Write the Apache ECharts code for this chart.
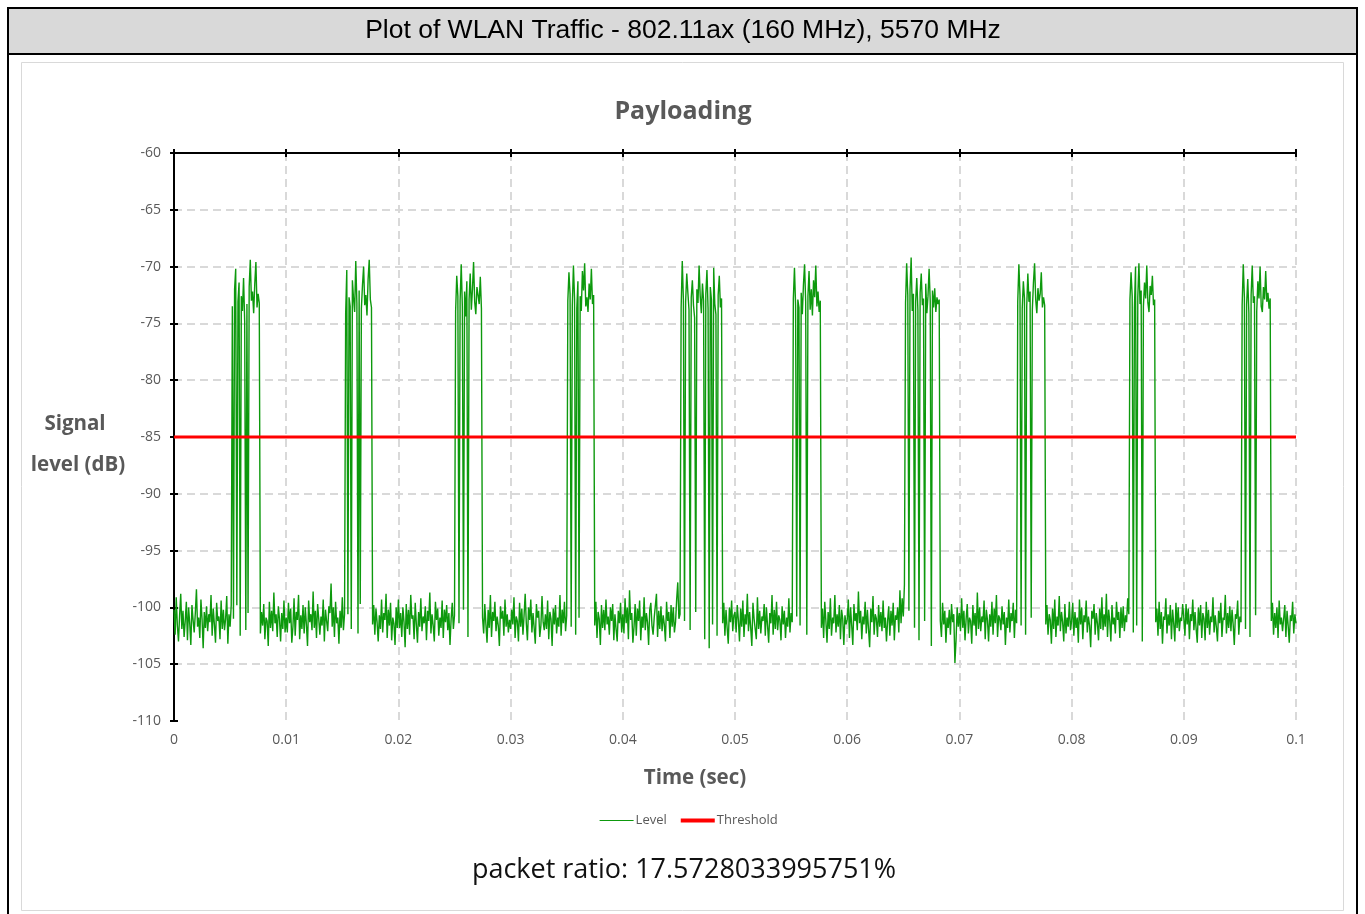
<!DOCTYPE html>
<html><head><meta charset="utf-8">
<script src="https://cdn.jsdelivr.net/npm/echarts@6/dist/echarts.min.js"></script>
<style>html,body{margin:0;padding:0;background:#fff}#c{width:1365px;height:914px}</style>
</head><body><div id="c"></div>
<script>
// ---- data ----
const sampleStep = 0.0001;     // seconds between samples
const periodLength = 0.01;     // level0k starts at k * 0.01 s

const level00 = [
  -100.2,-102.4,-99.1,-101.6,-103.0,-100.7,-98.8,-101.9,-100.3,-102.6,-101.2,-99.5,-102.9,-100.0,-101.4,-103.3,-99.8,-101.1,-102.2,-100.5,
  -98.4,-101.7,-100.9,-102.7,-99.3,-101.0,-103.6,-100.4,-101.8,-99.9,-102.1,-100.6,-101.3,-98.9,-102.5,-100.1,-101.5,-103.1,-99.6,-101.2,
  -100.8,-102.8,-99.4,-101.9,-100.2,-102.0,-101.0,-99.0,-103.2,-100.6,-101.7,-99.8,
  -73.5,-101.0,-72.0,-70.2,-99.8,-73.1,-71.4,-102.5,-72.6,-73.9,-71.0,-74.8,-102.0,-73.3,-100.5,-71.8,-69.4,-73.0,-72.2,-74.1,-71.5,-69.6,-73.6,-72.4,-73.2,
  -102.3,-100.4,-101.6,-99.7,-102.8,-100.9,-101.2,-103.4,-99.5,-101.8,-100.3,-102.1,-98.7,-101.4,-100.6,-102.6,-99.9,-101.0,-103.0,-100.5,-101.9,-99.4,-102.2];
const level01 = [
  -100.9,-102.2,-99.6,-101.4,-100.1,-103.1,-101.7,-99.2,-102.5,-100.4,-101.1,-98.9,-102.8,-100.7,-101.9,-99.8,-102.3,-100.0,-101.5,-103.4,
  -99.4,-101.3,-100.6,-102.0,-98.6,-101.8,-100.3,-102.7,-99.7,-101.0,-102.4,-100.8,-101.6,-99.3,-103.0,-100.2,-101.2,-102.1,-99.9,-100.5,
  -97.9,-101.7,-100.0,-102.6,-99.5,-101.4,-100.9,-103.2,-100.3,-101.8,-99.1,-102.0,-100.6,
  -74.1,-70.3,-100.6,-72.7,-73.5,-101.9,-71.2,-72.8,-74.0,-69.5,-73.2,-102.3,-72.1,-99.7,-73.7,-71.6,-70.0,-73.4,-72.5,-74.3,-71.1,-69.4,-72.9,-73.6,
  -101.5,-99.8,-102.4,-100.1,-101.3,-103.0,-100.7,-101.9,-99.3,-102.2,-100.5,-101.1,-98.8,-102.7,-100.2,-101.6,-99.6,-102.9,-100.9,-101.4,-103.3,-100.0,-101.8];
const level02 = [
  -99.3,-101.8,-100.5,-102.6,-100.0,-101.3,-103.5,-99.7,-101.9,-100.2,-102.4,-98.9,-101.0,-100.7,-102.8,-99.6,-101.5,-103.1,-100.4,-101.7,
  -99.2,-102.1,-100.8,-101.4,-99.9,-102.9,-100.3,-101.2,-98.7,-102.3,-100.6,-101.6,-103.0,-99.5,-101.1,-100.1,-102.5,-100.9,-101.8,-99.4,
  -102.7,-100.2,-101.3,-99.8,-102.0,-100.5,-103.3,-101.0,-99.6,-101.9,-100.7,
  -73.9,-70.8,-72.6,-101.4,-73.0,-69.8,-73.5,-100.2,-72.2,-74.4,-71.3,-102.6,-72.9,-70.6,-73.8,-72.0,-69.6,-73.1,-74.2,-71.8,-72.5,-73.3,-70.9,-73.7,
  -100.9,-102.3,-99.7,-101.5,-103.1,-100.2,-101.8,-98.9,-102.6,-100.4,-101.2,-99.5,-102.1,-100.8,-101.6,-103.4,-99.9,-101.0,-100.3,-102.5,-99.3,-101.7,-100.6,-102.2,-101.1];
const level03 = [
  -101.9,-100.2,-101.5,-99.1,-102.7,-100.8,-101.2,-103.0,-99.6,-101.7,-100.1,-102.4,-100.7,-98.8,-101.4,-102.9,-100.0,-101.1,-99.3,-102.2,
  -100.5,-101.8,-103.2,-99.7,-100.9,-100.3,-102.6,-101.6,-99.0,-101.3,-102.0,-100.6,-101.9,-99.4,-102.8,-100.4,-101.0,-103.4,-100.1,-101.5,
  -99.8,-102.3,-100.9,-101.7,-98.9,-102.5,-100.2,-101.4,-99.5,-102.1,-100.7,
  -73.0,-70.5,-72.4,-101.7,-73.4,-69.9,-72.8,-102.4,-73.7,-71.3,-100.9,-72.6,-73.9,-70.4,-72.1,-69.7,-73.5,-72.7,-74.0,-71.5,-72.9,-70.2,-73.3,-72.5,
  -101.6,-99.5,-102.7,-100.4,-101.0,-103.3,-99.8,-101.8,-100.2,-102.0,-99.3,-101.5,-100.8,-102.4,-100.0,-101.2,-99.7,-102.9,-100.6,-101.9,-103.0,-100.3,-101.4,-99.6,-102.2];
const level04 = [
  -100.6,-102.3,-99.2,-101.4,-100.0,-102.8,-98.5,-101.1,-100.5,-103.1,-101.7,-99.7,-102.5,-100.1,-101.2,-99.4,-102.9,-100.8,-101.8,-99.1,
  -102.0,-100.5,-101.3,-103.3,-100.2,-99.6,-101.6,-102.4,-100.9,-101.0,-98.8,-102.6,-100.3,-101.9,-99.9,-102.1,-100.7,-101.5,-103.0,-99.5,
  -101.2,-100.4,-102.7,-99.8,-101.7,-100.0,-102.2,-101.3,-99.3,-97.8,-101.0,-100.6,
  -73.6,-69.5,-72.9,-101.2,-73.1,-70.6,-72.3,-73.8,-102.0,-72.7,-71.2,-73.4,-74.5,-100.4,-72.0,-73.2,-69.9,-72.6,-74.1,-71.5,
  -73.0,-102.8,-72.4,-70.3,-73.7,-103.6,-71.8,-72.9,-101.5,-70.1,-73.3,-74.2,-102.5,-72.5,-70.8,-73.6,-72.8,
  -101.4,-99.6,-102.5,-100.2,-101.8,-103.2,-100.0,-101.3,-99.4,-102.1,-100.7];
const level05 = [
  -100.4,-102.2,-99.8,-101.1,-103.0,-100.1,-101.7,-99.4,-102.6,-100.6,-101.5,-98.8,-102.1,-100.4,-101.8,-103.4,-99.6,-101.0,-100.9,-102.8,
  -99.1,-101.9,-100.3,-102.3,-100.8,-101.2,-99.7,-102.5,-100.0,-101.6,-103.1,-100.5,-101.4,-98.9,-102.4,-100.2,-101.9,-99.5,-102.0,-100.7,
  -101.1,-102.9,-99.9,-101.5,-100.3,-102.7,-100.9,-101.7,-99.2,-102.2,-100.5,-101.3,
  -72.8,-70.1,-73.4,-100.8,-72.9,-73.6,-101.6,-72.3,-74.2,-71.6,-69.8,-73.1,-102.4,-72.6,-70.4,-73.8,-72.0,-74.3,-71.2,-72.7,-69.9,-73.5,-72.2,-74.0,-73.0,
  -101.8,-100.1,-102.7,-99.5,-101.2,-103.1,-100.4,-101.9,-99.2,-102.5,-100.9,-101.4,-98.9,-102.2,-100.6,-101.7,-99.8,-102.8,-100.2,-101.0,-103.3,-100.7,-101.5];
const level06 = [
  -101.1,-99.3,-102.7,-100.0,-101.6,-103.3,-99.7,-101.2,-100.5,-102.0,-98.6,-101.4,-100.3,-102.8,-100.8,-101.5,-99.5,-102.3,-100.2,-101.9,
  -103.5,-100.1,-101.3,-99.0,-102.4,-100.6,-101.0,-102.6,-99.8,-101.7,-100.4,-102.1,-99.4,-101.8,-100.9,-103.0,-101.2,-99.9,-102.5,-100.3,
  -101.6,-99.6,-102.9,-100.7,-101.1,-100.0,-102.2,-98.5,-101.4,-99.2,-100.8,-98.0,
  -73.2,-69.7,-72.5,-100.3,-72.0,-69.2,-73.9,-72.4,-101.8,-73.1,-71.0,-73.8,-102.9,-72.3,-70.6,-73.4,
  -72.8,-101.2,-71.5,-74.1,-72.6,-70.2,-73.0,-103.4,-72.1,-73.6,-71.9,-74.0,-72.7,-73.3,-72.9,
  -101.2,-102.6,-99.6,-101.5,-100.3,-103.1,-100.9,-101.8,-100.2,-102.4,-99.7,-101.3,-100.6,-104.9,-102.9,-100.0,-101.7];
const level07 = [
  -100.5,-102.1,-99.2,-101.8,-100.3,-102.9,-101.0,-99.7,-102.3,-100.9,-101.2,-103.2,-99.8,-101.6,-100.5,-102.5,-98.7,-101.9,-100.0,-102.1,
  -100.8,-101.3,-99.4,-102.8,-100.2,-101.1,-103.0,-100.6,-101.7,-99.5,-102.4,-100.1,-101.4,-98.9,-102.6,-100.7,-101.0,-102.0,-99.9,-101.5,
  -100.4,-103.3,-100.9,-101.8,-99.3,-102.2,-100.5,-101.2,-99.6,-102.7,-100.2,-101.4,
  -73.1,-69.8,-72.5,-101.6,-73.7,-71.3,-72.8,-102.4,-73.5,-70.6,-73.1,-72.2,-100.9,-73.8,-71.4,-69.7,-72.9,-74.1,-71.9,-73.0,-72.4,-70.5,-73.6,-72.7,-73.4,
  -101.5,-99.8,-102.4,-100.6,-101.1,-103.2,-100.1,-101.9,-99.3,-102.6,-100.8,-101.6,-99.0,-102.1,-100.4,-101.3,-103.0,-99.7,-102.3,-100.9,-101.7,-99.5,-102.0];
const level08 = [
  -101.2,-99.6,-102.5,-100.4,-101.8,-100.9,-103.1,-99.3,-101.5,-100.0,-102.8,-100.7,-101.3,-99.4,-102.2,-100.8,-101.6,-103.5,-100.3,-101.0,
  -99.7,-102.4,-100.5,-101.4,-102.9,-100.1,-101.9,-99.1,-102.0,-100.6,-101.7,-98.8,-102.6,-100.2,-101.2,-103.0,-99.8,-101.5,-100.9,-102.3,
  -99.5,-101.1,-100.4,-102.7,-100.0,-101.8,-99.9,-102.1,-100.7,-101.3,-99.2,-100.6,
  -72.9,-70.5,-72.6,-102.2,-73.6,-70.0,-101.6,-72.7,-69.7,-73.3,-72.1,-103.0,-73.5,-71.4,-72.8,-69.9,-73.2,-74.0,-71.7,-72.5,-70.8,-73.4,-72.9,
  -101.3,-100.1,-102.5,-99.5,-101.9,-100.4,-103.2,-100.8,-101.1,-99.2,-102.3,-100.6,-101.6,-99.8,-102.8,-100.2,-101.4,-103.0,-99.6,-101.8,-100.0,-102.1,-100.9,-101.2,-99.7];
const level09 = [
  -100.9,-102.5,-99.7,-101.5,-100.1,-102.8,-100.6,-101.2,-99.3,-102.0,-100.4,-101.9,-103.1,-100.0,-101.6,-99.8,-102.7,-100.5,-101.0,-102.9,
  -99.5,-101.8,-100.2,-102.4,-100.8,-101.3,-99.1,-102.2,-100.7,-101.7,-103.0,-100.3,-101.4,-99.6,-102.6,-100.9,-101.1,-98.9,-102.3,-100.5,
  -101.8,-99.9,-102.1,-100.2,-101.5,-103.3,-100.6,-101.0,-99.4,-102.4,-100.8,-101.3,
  -73.4,-69.8,-72.7,-101.9,-73.3,-71.1,-74.1,-102.6,-72.5,-69.9,-73.2,-72.6,-100.7,-73.9,-71.3,-72.8,-70.0,-73.5,-74.0,-71.8,-72.9,-70.4,-73.1,-72.3,-73.7,-72.8,
  -101.2,-99.6,-102.4,-100.5,-101.8,-100.0,-102.7,-99.4,-101.5,-100.9,-102.1,-101.0,-99.8,-102.6,-100.3,-101.6,-103.1,-100.7,-101.2,-99.5,-102.3,-100.6,-101.4];
const levelPeriods = [level00, level01, level02, level03, level04, level05, level06, level07, level08, level09];

const thresholdTimes = [0, 0.1];
const thresholdValues = [-85, -85];

const xTickLabels = ['0','0.01','0.02','0.03','0.04','0.05','0.06','0.07','0.08','0.09','0.1'];
const yTickLabels = ['-110','-105','-100','-95','-90','-85','-80','-75','-70','-65','-60'];

const headerText = 'Plot of WLAN Traffic - 802.11ax (160 MHz), 5570 MHz';
const chartTitle = 'Payloading';
const yAxisName = ['Signal', 'level (dB)'];
const xAxisName = 'Time (sec)';
const ratioText = 'packet ratio: 17.5728033995751%';

// ---- build series ----
const levelData = [];
levelPeriods.forEach((arr, k) => {
  arr.forEach((v, i) => levelData.push([+(k * periodLength + i * sampleStep).toFixed(6), v]));
});
const thresholdData = thresholdTimes.map((t, i) => [t, thresholdValues[i]]);

const gray = '#595959';
const green = '#0d990d';
const red = '#ff0000';
const uiFont = '"Open Sans", Lato, sans-serif';
const gridDash = { color: '#d9d9d9', width: 2, type: [8, 5] };

const xBase = { type: 'value', min: 0, max: 0.1, interval: 0.01 };
const yBase = { type: 'value', min: -110, max: -60, interval: 5 };

const chart = echarts.init(document.getElementById('c'), null, { renderer: 'canvas' });
chart.setOption({
  animation: false,
  backgroundColor: '#fff',
  grid: { left: 174, top: 153, right: 69, bottom: 193, containLabel: false },
  xAxis: [
    Object.assign({}, xBase, {
      position: 'bottom',
      axisLine: { show: false }, axisTick: { show: false },
      axisLabel: { margin: 12, color: gray, fontSize: 14, fontFamily: uiFont,
        formatter: v => xTickLabels[Math.round(v / 0.01)] },
      splitLine: { show: true, showMinLine: false, lineStyle: gridDash }
    }),
    Object.assign({}, xBase, {
      position: 'top',
      axisLine: { show: true, lineStyle: { color: '#000', width: 2 } },
      axisTick: { show: true, inside: false, length: 4, lineStyle: { color: '#000', width: 2 } },
      axisLabel: { show: false }, splitLine: { show: false }
    }),
    Object.assign({}, xBase, {
      position: 'top',
      axisLine: { show: false },
      axisTick: { show: true, inside: true, length: 4, lineStyle: { color: '#000', width: 2 } },
      axisLabel: { show: false }, splitLine: { show: false }
    })
  ],
  yAxis: [
    Object.assign({}, yBase, {
      position: 'left',
      axisLine: { show: true, lineStyle: { color: '#000', width: 2 } },
      axisTick: { show: true, inside: false, length: 4, lineStyle: { color: '#000', width: 2 } },
      axisLabel: { margin: 13, color: gray, fontSize: 14, fontFamily: uiFont,
        formatter: v => yTickLabels[Math.round((v + 110) / 5)] },
      splitLine: { show: true, showMinLine: false, showMaxLine: false, lineStyle: gridDash }
    }),
    Object.assign({}, yBase, {
      position: 'left',
      axisLine: { show: false },
      axisTick: { show: true, inside: true, length: 4, lineStyle: { color: '#000', width: 2 } },
      axisLabel: { show: false }, splitLine: { show: false }
    })
  ],
  legend: {
    left: 594, top: 809, itemWidth: 34, itemHeight: 10, itemGap: 12,
    itemStyle: { color: 'transparent', borderWidth: 0, opacity: 0 },
    textStyle: { color: gray, fontSize: 13, fontFamily: uiFont, padding: [0, 0, 0, -3] },
    data: [
      { name: 'Level', lineStyle: { color: green, width: 1.2 } },
      { name: 'Threshold', lineStyle: { color: red, width: 4 } }
    ]
  },
  series: [
    { name: 'Level', type: 'line', data: levelData, showSymbol: false, symbol: 'none',
      lineStyle: { color: green, width: 1.4 }, itemStyle: { color: green }, z: 3 },
    { name: 'Threshold', type: 'line', data: thresholdData, showSymbol: false, symbol: 'none',
      lineStyle: { color: red, width: 3 }, itemStyle: { color: red }, z: 4 }
  ],
  graphic: [
    { type: 'rect', z: -10, shape: { x: 8, y: 8, width: 1349, height: 46 },
      style: { fill: '#d9d9d9', stroke: '#000', lineWidth: 2 } },
    { type: 'line', z: -10, shape: { x1: 8, y1: 54, x2: 8, y2: 914 }, style: { stroke: '#000', lineWidth: 2 } },
    { type: 'line', z: -10, shape: { x1: 1357, y1: 54, x2: 1357, y2: 914 }, style: { stroke: '#000', lineWidth: 2 } },
    { type: 'rect', z: -10, shape: { x: 21.5, y: 62.5, width: 1322, height: 848 },
      style: { fill: 'none', stroke: '#d9d9d9', lineWidth: 1 } },
    { type: 'text', x: 683, y: 31, style: { text: headerText, fill: '#000', align: 'center', verticalAlign: 'middle',
      font: '26.5px "Liberation Sans", Arial, sans-serif' } },
    { type: 'text', x: 683, y: 112, style: { text: chartTitle, fill: gray, align: 'center', verticalAlign: 'middle',
      font: 'bold 25px ' + uiFont } },
    { type: 'text', x: 75, y: 424, style: { text: yAxisName[0], fill: gray, align: 'center', verticalAlign: 'middle',
      font: 'bold 20.5px ' + uiFont } },
    { type: 'text', x: 78, y: 465, style: { text: yAxisName[1], fill: gray, align: 'center', verticalAlign: 'middle',
      font: 'bold 20.5px ' + uiFont } },
    { type: 'text', x: 695, y: 778, style: { text: xAxisName, fill: gray, align: 'center', verticalAlign: 'middle',
      font: 'bold 20.5px ' + uiFont } },
    { type: 'text', x: 684, y: 870, style: { text: ratioText, fill: '#111', align: 'center', verticalAlign: 'middle',
      font: '27px ' + uiFont } }
  ]
});
</script></body></html>
